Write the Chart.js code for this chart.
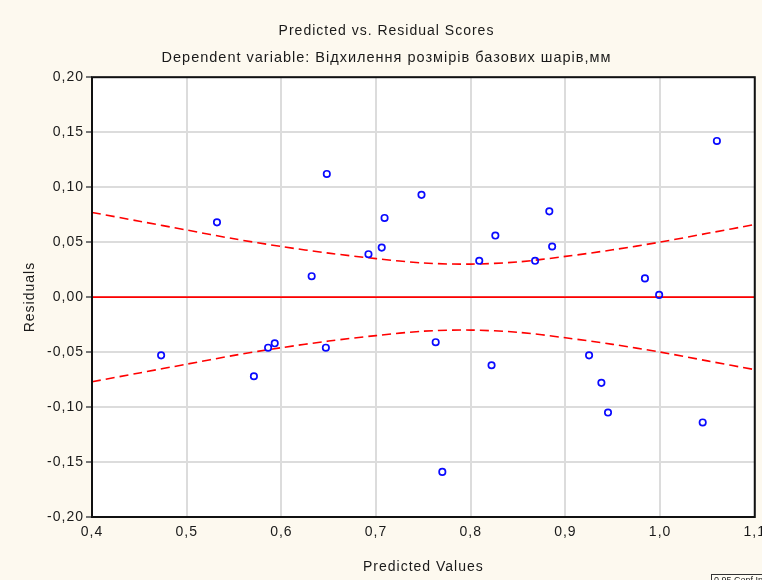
<!DOCTYPE html>
<html>
<head>
<meta charset="utf-8">
<script src="https://cdn.jsdelivr.net/npm/chart.js@4/dist/chart.umd.min.js"></script>
<style>
  html, body { margin: 0; padding: 0; overflow: hidden; background: #fdf9ef; }
  #wrap { width: 773px; height: 580px; }
</style>
</head>
<body>
<div id="wrap"><canvas id="chartCanvas" width="773" height="580"></canvas></div>
<script>
// Прогнозовані значення та залишки
const predicted = [0.473, 0.532, 0.571, 0.586, 0.593, 0.632, 0.647, 0.648, 0.692, 0.706, 0.709,
                   0.748, 0.763, 0.770, 0.809, 0.822, 0.826, 0.868, 0.883, 0.886, 0.925,
                   0.938, 0.945, 0.984, 0.999, 1.045, 1.060];
const residuals = [-0.053, 0.068, -0.072, -0.046, -0.042, 0.019, -0.046, 0.112, 0.039, 0.045, 0.072,
                   0.093, -0.041, -0.159, 0.033, -0.062, 0.056, 0.033, 0.078, 0.046, -0.053,
                   -0.078, -0.105, 0.017, 0.002, -0.114, 0.142];

// Межі довірчого інтервалу 0,95
const bandX     = [0.40, 0.45, 0.50, 0.55, 0.60, 0.65, 0.70, 0.75, 0.80, 0.85, 0.90, 0.95, 1.00, 1.05, 1.10];
const bandUpper = [0.077, 0.069, 0.061, 0.053, 0.046, 0.040, 0.035, 0.031, 0.030, 0.032, 0.037, 0.043, 0.050, 0.058, 0.066];
const bandLower = [-0.077, -0.069, -0.061, -0.053, -0.046, -0.040, -0.035, -0.031, -0.030, -0.032, -0.037, -0.043, -0.050, -0.058, -0.066];

const zeroX = [0.4, 1.1];
const zeroY = [0, 0];

const toXY = (xs, ys) => xs.map((x, i) => ({ x: x, y: ys[i] }));

const FONT = "'Liberation Sans', Arial, sans-serif";
const TXT = '#1a1a1a';

// ширший інтервал між літерами, як у Statistica
const spacingPlugin = {
    id: 'spacing',
    beforeUpdate(chart) { chart.ctx.letterSpacing = '1px'; },
    beforeDraw(chart) { chart.ctx.letterSpacing = '1px'; }
};

// Фон та рамка
const framePlugin = {
    id: 'frame',
    beforeDraw(chart) {
        const { ctx, chartArea: a } = chart;
        ctx.save();
        ctx.fillStyle = '#fdf9ef';
        ctx.fillRect(0, 0, chart.width, chart.height);
        ctx.fillStyle = '#ffffff';
        ctx.fillRect(a.left, a.top, a.right - a.left, a.bottom - a.top);
        ctx.restore();
    },
    afterDraw(chart) {
        const { ctx, chartArea: a } = chart;
        ctx.save();
        ctx.strokeStyle = '#111';
        ctx.lineWidth = 2;
        ctx.strokeRect(a.left, a.top, a.right - a.left, a.bottom - a.top);
        // маленька легенда внизу праворуч
        ctx.lineWidth = 1;
        ctx.strokeStyle = '#333';
        ctx.fillStyle = '#fffdf5';
        ctx.fillRect(711.5, 574.5, 60, 14);
        ctx.strokeRect(711.5, 574.5, 60, 14);
        ctx.fillStyle = TXT;
        ctx.letterSpacing = '0px';
        ctx.font = "9px " + FONT;
        ctx.textBaseline = 'top';
        ctx.fillText('0.95 Conf.Int.', 714, 576);
        ctx.restore();
    }
};

const ctx = document.getElementById('chartCanvas').getContext('2d');
const chart = new Chart(ctx, {
    type: 'scatter',
    data: {
        datasets: [
            {
                label: 'Residuals',
                data: toXY(predicted, residuals),
                pointStyle: 'circle',
                pointRadius: 3.2,
                pointBorderWidth: 1.7,
                borderColor: '#0a0aff',
                backgroundColor: 'rgba(0,0,0,0)'
            },
            {
                label: 'Upper',
                data: toXY(bandX, bandUpper),
                showLine: true,
                pointRadius: 0,
                borderColor: '#ff0000',
                borderWidth: 1.6,
                borderDash: [9, 5],
                tension: 0.3,
                fill: false
            },
            {
                label: 'Lower',
                data: toXY(bandX, bandLower),
                showLine: true,
                pointRadius: 0,
                borderColor: '#ff0000',
                borderWidth: 1.6,
                borderDash: [9, 5],
                tension: 0.3,
                fill: false
            },
            {
                label: 'Zero',
                data: toXY(zeroX, zeroY),
                showLine: true,
                pointRadius: 0,
                borderColor: '#ff0000',
                borderWidth: 1.8,
                fill: false
            }
        ]
    },
    options: {
        responsive: false,
        animation: false,
        layout: { padding: 0 },
        plugins: {
            legend: { display: false },
            tooltip: { enabled: false },
            title: {
                display: true,
                text: 'Predicted vs. Residual Scores',
                color: TXT,
                font: { family: FONT, size: 14, weight: 'normal' },
                padding: { top: 22.6, bottom: 0 }
            },
            subtitle: {
                display: true,
                text: 'Dependent variable: Відхилення розмірів базових шарів,мм',
                color: TXT,
                font: { family: FONT, size: 14.5, weight: 'normal' },
                padding: { top: 10, bottom: 10.4 }
            }
        },
        scales: {
            x: {
                type: 'linear',
                min: 0.4,
                max: 1.1,
                afterFit: s => { s.height = 63; },
                ticks: {
                    stepSize: 0.1,
                    color: TXT,
                    padding: 7,
                    font: { family: FONT, size: 14 },
                    callback: v => v.toFixed(1).replace('.', ',')
                },
                grid: { color: '#dcdcdc', lineWidth: 2, drawTicks: false },
                border: { display: false },
                title: {
                    display: true,
                    text: 'Predicted Values',
                    color: TXT,
                    font: { family: FONT, size: 14 },
                    padding: { top: 0, bottom: 4.6 }
                }
            },
            y: {
                type: 'linear',
                min: -0.2,
                max: 0.2,
                afterFit: s => { s.width = 92; },
                ticks: {
                    stepSize: 0.05,
                    color: TXT,
                    padding: 2,
                    font: { family: FONT, size: 14 },
                    callback: v => v.toFixed(2).replace('.', ',')
                },
                grid: { color: '#dcdcdc', lineWidth: 2, tickLength: 6, tickColor: '#777' },
                border: { display: false },
                title: {
                    display: true,
                    text: 'Residuals',
                    color: TXT,
                    font: { family: FONT, size: 14 },
                    padding: { top: 21.6, bottom: 0 }
                }
            }
        }
    },
    plugins: [spacingPlugin, framePlugin]
});
</script>
</body>
</html>
